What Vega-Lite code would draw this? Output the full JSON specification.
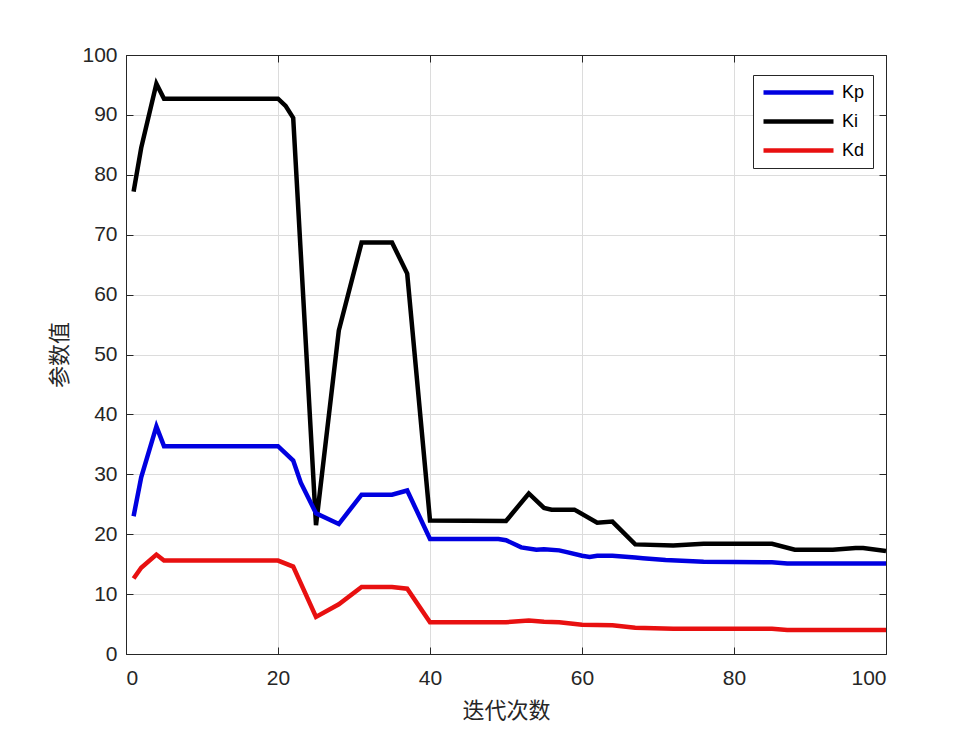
{
  "$schema": "https://vega.github.io/schema/vega-lite/v6.json",
  "width": 760,
  "height": 599,
  "autosize": "none",
  "padding": {"left": 126, "top": 55, "right": 94, "bottom": 81},
  "background": "white",
  "config": {
    "view": {"stroke": "#262626", "strokeWidth": 1},
    "axis": {
      "labelFont": "Liberation Sans",
      "labelFontSize": 21,
      "labelColor": "#262626",
      "titleFont": "Noto Sans CJK SC",
      "titleFontSize": 22,
      "titleFontWeight": "normal",
      "titleColor": "#262626",
      "gridColor": "#dcdcdc",
      "gridWidth": 1,
      "domainColor": "#262626",
      "tickColor": "#262626",
      "tickSize": -7,
      "tickWidth": 1
    }
  },
  "data": {
    "values": [
      {"series": "Ki", "x": 1, "y": 77.2},
      {"series": "Ki", "x": 2, "y": 84.5},
      {"series": "Ki", "x": 4, "y": 95.2},
      {"series": "Ki", "x": 5, "y": 92.7},
      {"series": "Ki", "x": 20, "y": 92.7},
      {"series": "Ki", "x": 21, "y": 91.5},
      {"series": "Ki", "x": 22, "y": 89.5},
      {"series": "Ki", "x": 25, "y": 21.5},
      {"series": "Ki", "x": 28, "y": 54},
      {"series": "Ki", "x": 31, "y": 68.7},
      {"series": "Ki", "x": 35, "y": 68.7},
      {"series": "Ki", "x": 37, "y": 63.5},
      {"series": "Ki", "x": 40, "y": 22.3},
      {"series": "Ki", "x": 50, "y": 22.2},
      {"series": "Ki", "x": 53, "y": 26.8},
      {"series": "Ki", "x": 55, "y": 24.4},
      {"series": "Ki", "x": 56, "y": 24.1},
      {"series": "Ki", "x": 59, "y": 24.1},
      {"series": "Ki", "x": 62, "y": 21.9},
      {"series": "Ki", "x": 64, "y": 22.1},
      {"series": "Ki", "x": 67, "y": 18.3},
      {"series": "Ki", "x": 72, "y": 18.1},
      {"series": "Ki", "x": 76, "y": 18.4},
      {"series": "Ki", "x": 85, "y": 18.4},
      {"series": "Ki", "x": 88, "y": 17.4},
      {"series": "Ki", "x": 93, "y": 17.4},
      {"series": "Ki", "x": 96, "y": 17.7},
      {"series": "Ki", "x": 97, "y": 17.7},
      {"series": "Ki", "x": 100, "y": 17.2},
      {"series": "Kp", "x": 1, "y": 23},
      {"series": "Kp", "x": 2, "y": 29.5},
      {"series": "Kp", "x": 4, "y": 38},
      {"series": "Kp", "x": 5, "y": 34.7},
      {"series": "Kp", "x": 20, "y": 34.7},
      {"series": "Kp", "x": 22, "y": 32.3},
      {"series": "Kp", "x": 23, "y": 28.6},
      {"series": "Kp", "x": 25, "y": 23.5},
      {"series": "Kp", "x": 28, "y": 21.7},
      {"series": "Kp", "x": 31, "y": 26.6},
      {"series": "Kp", "x": 35, "y": 26.6},
      {"series": "Kp", "x": 37, "y": 27.3},
      {"series": "Kp", "x": 40, "y": 19.2},
      {"series": "Kp", "x": 49, "y": 19.2},
      {"series": "Kp", "x": 50, "y": 19},
      {"series": "Kp", "x": 52, "y": 17.8},
      {"series": "Kp", "x": 54, "y": 17.4},
      {"series": "Kp", "x": 55, "y": 17.5},
      {"series": "Kp", "x": 57, "y": 17.3},
      {"series": "Kp", "x": 58, "y": 17},
      {"series": "Kp", "x": 60, "y": 16.4},
      {"series": "Kp", "x": 61, "y": 16.2},
      {"series": "Kp", "x": 62, "y": 16.4},
      {"series": "Kp", "x": 64, "y": 16.4},
      {"series": "Kp", "x": 67, "y": 16.1},
      {"series": "Kp", "x": 68, "y": 16},
      {"series": "Kp", "x": 71, "y": 15.7},
      {"series": "Kp", "x": 76, "y": 15.4},
      {"series": "Kp", "x": 85, "y": 15.3},
      {"series": "Kp", "x": 87, "y": 15.1},
      {"series": "Kp", "x": 100, "y": 15.1},
      {"series": "Kd", "x": 1, "y": 12.6},
      {"series": "Kd", "x": 2, "y": 14.4},
      {"series": "Kd", "x": 4, "y": 16.6},
      {"series": "Kd", "x": 5, "y": 15.6},
      {"series": "Kd", "x": 20, "y": 15.6},
      {"series": "Kd", "x": 22, "y": 14.6},
      {"series": "Kd", "x": 25, "y": 6.2},
      {"series": "Kd", "x": 28, "y": 8.3},
      {"series": "Kd", "x": 31, "y": 11.2},
      {"series": "Kd", "x": 35, "y": 11.2},
      {"series": "Kd", "x": 37, "y": 10.9},
      {"series": "Kd", "x": 40, "y": 5.3},
      {"series": "Kd", "x": 50, "y": 5.3},
      {"series": "Kd", "x": 53, "y": 5.6},
      {"series": "Kd", "x": 55, "y": 5.4},
      {"series": "Kd", "x": 57, "y": 5.3},
      {"series": "Kd", "x": 60, "y": 4.9},
      {"series": "Kd", "x": 64, "y": 4.8},
      {"series": "Kd", "x": 67, "y": 4.4},
      {"series": "Kd", "x": 72, "y": 4.2},
      {"series": "Kd", "x": 85, "y": 4.2},
      {"series": "Kd", "x": 87, "y": 4.0},
      {"series": "Kd", "x": 100, "y": 4.0}
    ]
  },
  "layer": [
    {
      "mark": {"type": "line", "strokeWidth": 4.5, "strokeJoin": "miter", "clip": true},
      "encoding": {
        "x": {
          "field": "x", "type": "quantitative",
          "scale": {"domain": [0, 100], "nice": false, "zero": false},
          "axis": {"values": [0, 20, 40, 60, 80, 100], "title": "迭代次数", "titlePadding": 12, "labelPadding": 20, "grid": true}
        },
        "y": {
          "field": "y", "type": "quantitative",
          "scale": {"domain": [0, 100], "nice": false},
          "axis": {"values": [0, 10, 20, 30, 40, 50, 60, 70, 80, 90, 100], "title": "参数值", "titlePadding": 10, "labelPadding": 16, "grid": true}
        },
        "color": {
          "field": "series", "type": "nominal",
          "scale": {"domain": ["Kp", "Ki", "Kd"], "range": ["#0000E0", "#000000", "#E81010"]},
          "legend": {
            "title": null,
            "orient": "none",
            "legendX": 627,
            "legendY": 20,
            "symbolType": "M-1,0H9",
            "symbolSize": 196,
            "symbolStrokeWidth": 4.5,
            "labelFont": "Liberation Sans",
            "labelFontSize": 18,
            "labelColor": "#000000",
            "strokeColor": "#262626",
            "fillColor": "white",
            "padding": 8,
            "rowPadding": 10,
            "labelOffset": 62
          }
        },
        "order": {"field": "x", "type": "quantitative"}
      }
    },
    {
      "mark": {"type": "line", "opacity": 0},
      "encoding": {
        "x": {
          "field": "x", "type": "quantitative",
          "axis": {"orient": "top", "values": [0, 20, 40, 60, 80, 100], "labels": false, "title": null, "grid": false}
        },
        "y": {
          "field": "y", "type": "quantitative",
          "axis": {"orient": "right", "values": [0, 10, 20, 30, 40, 50, 60, 70, 80, 90, 100], "labels": false, "title": null, "grid": false}
        },
        "detail": {"field": "series"}
      }
    }
  ],
  "resolve": {"axis": {"x": "independent", "y": "independent"}}
}
